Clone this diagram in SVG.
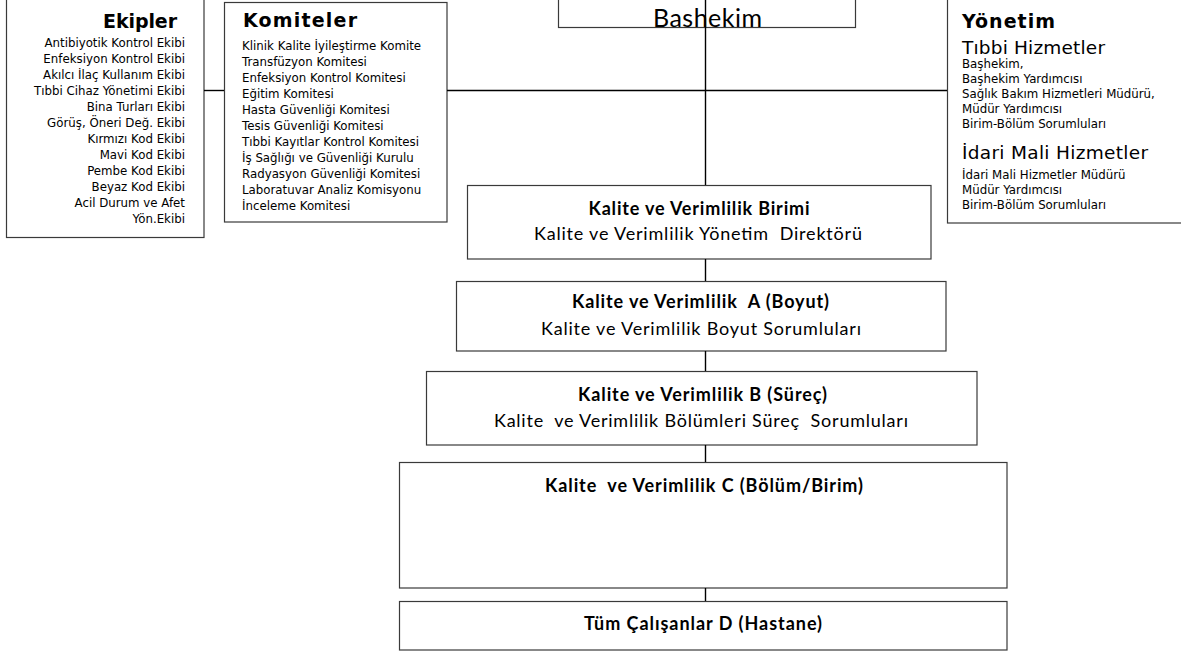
<svg xmlns="http://www.w3.org/2000/svg" width="1181" height="654" viewBox="0 0 1181 654">
<style>
.box{fill:#fff;stroke:#3a3a3a;stroke-width:1.2}
.conn{stroke:#000;stroke-width:1.4;fill:none}
.sm{font-family:"DejaVu Sans","Liberation Sans",sans-serif;font-size:11.8px;fill:#000}
.ttl{font-family:"DejaVu Sans","Liberation Sans",sans-serif;font-size:19px;font-weight:bold;fill:#000}
.big{font-family:"DejaVu Sans","Liberation Sans",sans-serif;font-size:18.5px;fill:#000}
.kb{font-family:Lato,"Open Sans",sans-serif;font-size:18px;font-weight:bold;fill:#000;text-anchor:middle}
.kr{font-family:Lato,"Open Sans",sans-serif;font-size:18px;fill:#000;text-anchor:middle}
.bh{font-family:Lato,"Open Sans",sans-serif;font-size:25px;fill:#000;text-anchor:middle}
</style>
<defs>
<clipPath id="bhclip"><rect x="558" y="-10" width="298" height="37.5"/></clipPath>
</defs>
<rect width="1181" height="654" fill="#fff"/>

<g id="bashekim">
<rect class="box" x="558.5" y="-5" width="297" height="32.5"/>
<text class="bh" x="707.5" y="27" textLength="109" clip-path="url(#bhclip)">Bashekim</text>
</g>

<g id="ekipler">
<rect class="box" x="6.5" y="-5" width="197.5" height="242.5"/>
<text class="ttl" x="177" y="28" text-anchor="end" textLength="74">Ekipler</text>
<g class="sm" text-anchor="end">
<text x="185" y="47">Antibiyotik Kontrol Ekibi</text>
<text x="185" y="63">Enfeksiyon Kontrol Ekibi</text>
<text x="185" y="79">Akılcı İlaç Kullanım Ekibi</text>
<text x="185" y="95">Tıbbi Cihaz Yönetimi Ekibi</text>
<text x="185" y="111">Bina Turları Ekibi</text>
<text x="185" y="127">Görüş, Öneri Değ. Ekibi</text>
<text x="185" y="143">Kırmızı Kod Ekibi</text>
<text x="185" y="159">Mavi Kod Ekibi</text>
<text x="185" y="175">Pembe Kod Ekibi</text>
<text x="185" y="191">Beyaz Kod Ekibi</text>
<text x="185" y="207">Acil Durum ve Afet</text>
<text x="185" y="223">Yön.Ekibi</text>
</g>
</g>

<g id="komiteler">
<rect class="box" x="224.5" y="2.5" width="222.5" height="219.5"/>
<text class="ttl" x="243" y="27" textLength="114">Komiteler</text>
<g class="sm">
<text x="242" y="50">Klinik Kalite İyileştirme Komite</text>
<text x="242" y="66">Transfüzyon Komitesi</text>
<text x="242" y="82">Enfeksiyon Kontrol Komitesi</text>
<text x="242" y="98">Eğitim Komitesi</text>
<text x="242" y="114">Hasta Güvenliği Komitesi</text>
<text x="242" y="130">Tesis Güvenliği Komitesi</text>
<text x="242" y="146">Tıbbi Kayıtlar Kontrol Komitesi</text>
<text x="242" y="162">İş Sağlığı ve Güvenliği Kurulu</text>
<text x="242" y="178">Radyasyon Güvenliği Komitesi</text>
<text x="242" y="194">Laboratuvar Analiz Komisyonu</text>
<text x="242" y="210">İnceleme Komitesi</text>
</g>
</g>

<g id="yonetim">
<rect class="box" x="947.5" y="-5" width="240" height="228"/>
<text class="ttl" x="962" y="28" textLength="93">Yönetim</text>
<text class="big" x="962" y="54" textLength="143">Tıbbi Hizmetler</text>
<g class="sm">
<text x="962" y="68">Başhekim,</text>
<text x="962" y="83">Başhekim Yardımcısı</text>
<text x="962" y="98">Sağlık Bakım Hizmetleri Müdürü,</text>
<text x="962" y="113">Müdür Yardımcısı</text>
<text x="962" y="128">Birim-Bölüm Sorumluları</text>
</g>
<text class="big" x="962" y="159" textLength="186">İdari Mali Hizmetler</text>
<g class="sm">
<text x="962" y="179">İdari Mali Hizmetler Müdürü</text>
<text x="962" y="194">Müdür Yardımcısı</text>
<text x="962" y="209">Birim-Bölüm Sorumluları</text>
</g>
</g>

<g id="birimi">
<rect class="box" x="467.5" y="185.5" width="463.5" height="73.5"/>
<text class="kb" x="699" y="215" textLength="221">Kalite ve Verimlilik Birimi</text>
<text class="kr" x="698" y="240" textLength="328" xml:space="preserve">Kalite ve Verimlilik Yönetim  Direktörü</text>
</g>

<g id="boyut">
<rect class="box" x="456.5" y="281.5" width="489.5" height="69.5"/>
<text class="kb" x="700.5" y="308" textLength="257" xml:space="preserve">Kalite ve Verimlilik  A (Boyut)</text>
<text class="kr" x="701" y="335" textLength="320">Kalite ve Verimlilik Boyut Sorumluları</text>
</g>

<g id="surec">
<rect class="box" x="426.5" y="371.5" width="550.5" height="73.5"/>
<text class="kb" x="702.5" y="401" textLength="249">Kalite ve Verimlilik B (Süreç)</text>
<text class="kr" x="701" y="427" textLength="414" xml:space="preserve">Kalite  ve Verimlilik Bölümleri Süreç  Sorumluları</text>
</g>

<g id="bolum">
<rect class="box" x="399.5" y="462.5" width="607.5" height="125.5"/>
<text class="kb" x="704" y="492" textLength="318" xml:space="preserve">Kalite  ve Verimlilik C (Bölüm/Birim)</text>
</g>

<g id="hastane">
<rect class="box" x="399.5" y="601.5" width="607.5" height="48.5"/>
<text class="kb" x="703" y="630" textLength="238">Tüm Çalışanlar D (Hastane)</text>
</g>

<g id="connectors">
<line class="conn" x1="204" y1="90.5" x2="224" y2="90.5"/>
<line class="conn" x1="447" y1="90.5" x2="947" y2="90.5"/>
<line class="conn" x1="705.5" y1="0" x2="705.5" y2="185"/>
<line class="conn" x1="705.5" y1="259" x2="705.5" y2="281"/>
<line class="conn" x1="705.5" y1="351" x2="705.5" y2="371"/>
<line class="conn" x1="705.5" y1="445" x2="705.5" y2="462"/>
<line class="conn" x1="705.5" y1="588" x2="705.5" y2="601"/>
</g>
</svg>
